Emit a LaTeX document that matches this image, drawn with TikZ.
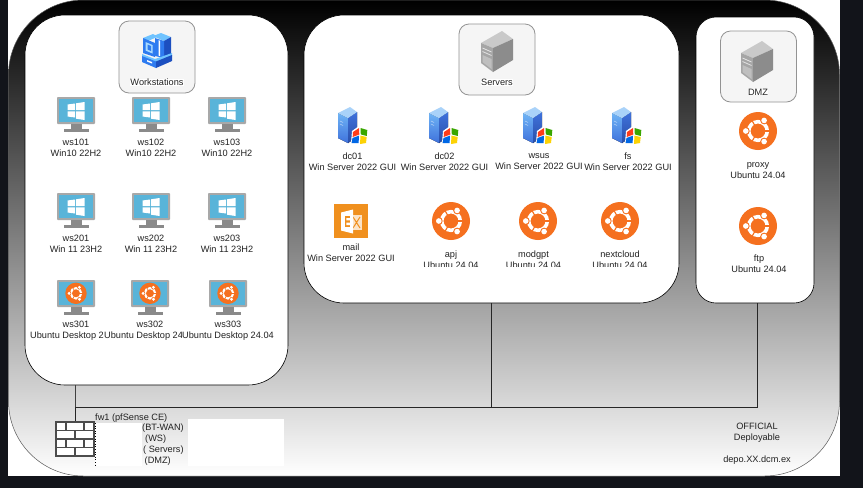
\documentclass[tikz,border=0pt]{standalone}
\usepackage{fontspec}
\setmainfont{Liberation Sans}
\definecolor{pagebg}{HTML}{12141A}
\definecolor{ubu}{HTML}{F5701F}
\definecolor{scr}{HTML}{59B4D9}
\definecolor{mon}{HTML}{A8A8A8}
\definecolor{mond}{HTML}{8A8A8A}
\definecolor{exo}{HTML}{F0901E}
\definecolor{txt}{HTML}{222222}
\definecolor{srvl}{HTML}{6FB4F5}
\definecolor{srvm}{HTML}{3F72DC}
\definecolor{srvd}{HTML}{2A4FA8}
\newcommand\UbuLogo[3]{\begin{scope}[shift={(#1,#2)},scale=#3/19]
 \fill[ubu] (0,0) circle (19);
 \draw[white,line width=#3*0.19pt] (0,0) circle (9.3);
 \foreach\a in {0,120,240}{\draw[ubu,line width=#3*.06pt] (\a:6) -- (\a:12);}
 \foreach\a in {60,180,300}{\fill[ubu](\a:12.2) circle (3.9); \fill[white](\a:12.2) circle (2.8);}
\end{scope}}
\newcommand\MonitorBody[2]{\begin{scope}[shift={(#1,#2)}]
 \fill[mon,rounded corners=0.8] (-19,0) rectangle (19,27);
 \fill[scr] (-17,2.4) rectangle (17,25);
 \fill[mond] (-5.5,27) rectangle (5.5,31.5);
 \fill[mond] (-12.5,31.5) rectangle (12.5,34.5);
\end{scope}}
\newcommand\WinMonitor[2]{\MonitorBody{#1}{#2}\begin{scope}[shift={(#1,#2+14)},white]
 \fill (-8.5,-6.5)--(-1,-7.5)--(-1,-.8)--(-8.5,-.8)--cycle;
 \fill (0,-7.7)--(8.5,-9)--(8.5,-.8)--(0,-.8)--cycle;
 \fill (-8.5,.4)--(-1,.4)--(-1,6.5)--(-8.5,5.5)--cycle;
 \fill (0,.4)--(8.5,.4)--(8.5,9)--(0,7.7)--cycle;
\end{scope}}
\newcommand\UbuMonitor[2]{\MonitorBody{#1}{#2}\UbuLogo{#1}{#2+13.3}{10.7}}
\newcommand\WinServer[1]{\begin{scope}[shift={(#1,0)}]
 \fill[top color=srvl,bottom color=srvm] (-15,113)--(-5,118)--(-5,143)--(-15,138)--cycle;
 \fill[top color=srvm,bottom color=srvd] (-5,118)--(4,112)--(4,137)--(-5,143)--cycle;
 \fill[srvl!60!white] (-15,113)--(-3,107)--(4,112)--(-5,118)--cycle;
 \draw[white,opacity=.55,line width=.5] (-13,121)--(-10,122.5) (-13,124)--(-10,125.5);
 \fill[white] (-1,131)--(6,126)--(15,129)--(14,143)--(6,145)--(-2,143)--cycle;
 \fill[red!70!orange!90] (0,132)--(6,128)--(6.3,134.5)--(-.3,137)--cycle;
 \fill[green!50!black!70!lime] (7.5,128)--(14.3,130)--(13.8,136)--(7.8,134.4)--cycle;
 \fill[blue!55!cyan!90!black] (-.5,138)--(6,135.6)--(5.6,143)--(-1.5,143)--cycle;
 \fill[yellow!70!orange] (7.5,135.6)--(13.7,137)--(13,143)--(7,144)--cycle;
\end{scope}}
\newcommand\GrayServer[2]{\begin{scope}[shift={(#1,#2)}]
 \fill[gray!42] (-16,-8)--(5,-20)--(16,-12)--(-4,-3)--cycle;
 \fill[gray!70] (-16,-8)--(-4,-3)--(-4,21)--(-16,12)--cycle;
 \fill[gray!90] (-4,-3)--(16,-12)--(16,9)--(-4,21)--cycle;
 \draw[gray!20,line width=.8] (-14.5,-3)--(-5.5,1) (-14.5,0.5)--(-5.5,4.5);
 \fill[gray!50] (-14.5,4)--(-5.5,8)--(-5.5,18)--(-14.5,11)--cycle;
\end{scope}}
\newcommand\MailIcon[2]{\begin{scope}[shift={(#1,#2)}]
 \fill[exo] (-17,-17) rectangle (17,17);
 \fill[white!75!exo] (0,-6) rectangle (11,9);
 \draw[exo,line width=1] (2,-4)--(9,7) (9,-4)--(2,7);
 \fill[white] (-10,-8.5)--(2,-11.5)--(2,12.5)--(-10,9.5)--cycle;
 \fill[exo] (-6.5,-5) rectangle (-1,6);
 \fill[white] (-4.7,-3) rectangle (-1,-.6) (-4.7,1.6) rectangle (-1,4);
\end{scope}}
\newcommand\WsIcon[2]{\begin{scope}[shift={(#1,#2)}]
 \definecolor{bl}{HTML}{2E7BF0}\definecolor{bd}{HTML}{1C4FC0}\definecolor{bc}{HTML}{6FC3FF}
 \fill[bc] (-14,-13)--(-4,-17)--(1,-14.5)--(-9,-10)--cycle;
 \fill[bl] (-14,-13)--(-2,-8)--(-2,6)--(-14,2)--cycle;
 \fill[bc!60!white] (-11.5,-9)--(-4.5,-6)--(-4.5,2.5)--(-11.5,-.5)--cycle;
 \fill[bl] (-9.5,-6.5)--(-6,-5)--(-6,0)--(-9.5,-1.5)--cycle;
 \fill[bc] (-4,-15)--(4,-18)--(14,-14)--(7,-10)--cycle;
 \fill[bd] (7,-10)--(14,-14)--(14,5)--(7,9)--cycle;
 \fill[bl] (-2,-13)--(7,-10)--(7,7)--(-2,5)--cycle;
 \fill[white] (1.7,-10.8) -- (3,-10.3) -- (3,5) -- (1.7,4.7) -- cycle;
 \fill[bc] (-15,3)--(-2,8)--(15,2)--(15,5)--(0,12)--(-15,5)--cycle;
 \fill[bl] (-15,5)--(-1,10.5)--(-1,17)--(-15,11)--cycle;
 \fill[bd] (-1,10.5)--(15,4)--(15,10)--(-1,17)--cycle;
 \fill[white] (-10,9)--(-5,11)--(-5,12.5)--(-10,10.5)--cycle;
\end{scope}}
\tikzset{
 x=1pt,y=-1pt,
 panel/.style={draw=black,line width=.6pt,fill=white,rounded corners=#1,inner sep=0,outer sep=0},
 header/.style={draw=gray!85,line width=.8pt,fill=gray!8,rounded corners=10pt,inner sep=0,outer sep=0},
 lbl/.style={align=center,font=\fontsize{9.2}{10.9}\selectfont,text=txt,inner sep=0pt,fill=white},
 plain/.style={align=center,font=\fontsize{9.2}{10.9}\selectfont,text=txt,inner sep=0pt},
 bus/.style={draw=black!85,line width=1pt},
 uplink/.style={draw=black!75,line width=1.6pt},
 brick/.style={draw=black!70,line width=1.1pt,fill=white}
}
\begin{document}
\begin{tikzpicture}
\useasboundingbox (0,0) rectangle (863,488);
\fill[pagebg] (0,0) rectangle (863,488);
\fill[white] (8,0) rectangle (840,476);
\node[draw=black!65,line width=.5pt,top color=black,bottom color=white,rounded corners=75pt,minimum width=831pt,minimum height=476pt,inner sep=0,outer sep=0] (frame) at (424,238) {};

\node[panel=40pt,minimum width=263pt,minimum height=370pt] (wspanel) at (156.5,200) {};
\node[panel=40pt,minimum width=375pt,minimum height=288pt] (srvpanel) at (491.5,159) {};
\node[panel=20pt,minimum width=118pt,minimum height=286pt] (dmzpanel) at (755,160) {};

% firewall
\node[inner sep=0,outer sep=0,minimum width=39pt,minimum height=34pt] (fw) at (75.3,439) {};
\coordinate (busturn) at (fw.north |- 0,407);
\coordinate (srvdrop) at (srvpanel.south |- 0,407);
\coordinate (dmzdrop) at (757,407);
\draw[uplink] (wspanel.south -| fw.north) -- (busturn);
\draw[bus] (fw.north) -- (busturn) -- (dmzdrop) -- (dmzdrop |- dmzpanel.south);
\draw[bus] (srvdrop) -- (srvpanel.south);
\foreach \yy/\kind in {422/a,430.5/b,439/a,447.5/b}{
 \if a\kind
  \filldraw[brick] (56,\yy) rectangle (66,\yy+8.5);
  \filldraw[brick] (66,\yy) rectangle (84,\yy+8.5);
  \filldraw[brick] (84,\yy) rectangle (94,\yy+8.5);
 \else
  \filldraw[brick] (56,\yy) rectangle (75,\yy+8.5);
  \filldraw[brick] (75,\yy) rectangle (94,\yy+8.5);
 \fi
}
\fill[white] (95,423) rectangle (142,466);
\fill[white] (188,419) rectangle (284,466);
\draw[black,line width=.6pt,dotted] (95.3,423) -- (95.3,466);
\node[plain,anchor=west] (fwname) at (95,418) {fw1 (pfSense CE)};
\node[plain,anchor=west] (fwa) at (142,428.5) {(BT-WAN)};
\node[plain,anchor=west] (fwb) at (145,439) {(WS)};
\node[plain,anchor=west] (fwc) at (143,450) {( Servers)};
\node[plain,anchor=west] (fwd) at (144.5,461) {(DMZ)};

% workstations
\node[header,minimum width=76pt,minimum height=72pt] (wshead) at (157,57) {};
\WsIcon{157}{51}
\node[lbl] (wstitle) at (157,82.5) {Workstations};
\foreach \xx/\nn in {76/ws101,151/ws102,227/ws103}{
 \WinMonitor{\xx}{97}
 \node[lbl] (\nn) at (\xx,148) {\nn\\Win10 22H2};
}
\foreach \xx/\nn in {76/ws201,151/ws202,227/ws203}{
 \WinMonitor{\xx}{193}
 \node[lbl] (\nn) at (\xx,243.5) {\nn\\Win 11 23H2};
}
\foreach \xx/\nn in {76/ws301,150/ws302,228/ws303}{
 \UbuMonitor{\xx}{280}
 \node[lbl] (\nn) at (\xx,331) {\nn\\Ubuntu Desktop 24.04};
}

% servers
\node[header,minimum width=76pt,minimum height=71pt] (srvhead) at (497,59.5) {};
\GrayServer{497}{51}
\node[lbl] (srvtitle) at (497,82.5) {Servers};
\foreach \xx/\tx/\nn in {353/352.5/dc01,444/444.5/dc02,538/539/wsus,627/628/fs}{
 \WinServer{\xx}
 \node[lbl] (\nn) at (\tx,161.5) {\nn\\Win Server 2022 GUI};
}
\MailIcon{351}{221}
\node[lbl] (mail) at (351,252.5) {mail\\Win Server 2022 GUI};
\UbuLogo{451}{221}{19}
\UbuLogo{538}{221}{19}
\UbuLogo{620}{221}{19}
\begin{scope}
\clip (400,240) rectangle (670,266.5);
\node[lbl] (apj) at (451,259.5) {apj\\Ubuntu 24.04};
\node[lbl] (modgpt) at (533.5,259.5) {modgpt\\Ubuntu 24.04};
\node[lbl] (nextcloud) at (620,259.5) {nextcloud\\Ubuntu 24.04};
\end{scope}

% dmz
\node[header,minimum width=76pt,minimum height=71pt] (dmzhead) at (758.5,66.5) {};
\GrayServer{757}{61}
\node[lbl] (dmztitle) at (758,92) {DMZ};
\UbuLogo{758}{131}{19}
\node[lbl] (proxy) at (758,170.5) {proxy\\Ubuntu 24.04};
\UbuLogo{758}{226}{19}
\node[lbl] (ftp) at (759,263.5) {ftp\\Ubuntu 24.04};

% footer
\node[plain] (official) at (757,432.5) {OFFICIAL\\Deployable};
\node[plain] (depo) at (757,460) {depo.XX.dcm.ex};
\end{tikzpicture}
\end{document}
